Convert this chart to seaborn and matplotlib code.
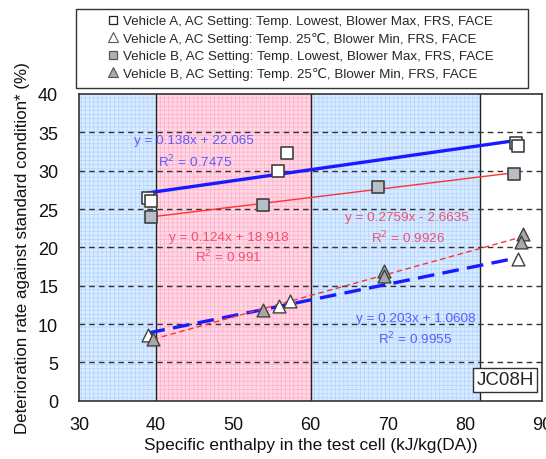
import numpy as np
import pandas as pd
import matplotlib
matplotlib.use("Agg")
import matplotlib.pyplot as plt
import seaborn as sns
from matplotlib.patches import Rectangle
from matplotlib.lines import Line2D

sns.set_theme(style="white")
plt.rcParams['font.family'] = ['Liberation Sans', 'DejaVu Sans']
plt.rcParams['hatch.linewidth'] = 0.6

# ---- data ----
a_sq_x = [39.0, 39.3, 55.8, 57.0, 86.6, 86.9]
a_sq_y = [26.4, 26.0, 29.9, 32.3, 33.6, 33.2]
b_sq_x = [39.3, 53.8, 68.8, 86.4]
b_sq_y = [24.0, 25.5, 27.9, 29.6]
a_tr_x = [39.0, 55.9, 57.4, 86.9]
a_tr_y = [8.6, 12.3, 13.0, 18.5]
b_tr_x = [39.6, 53.9, 69.5, 69.5, 87.5, 87.3]
b_tr_y = [8.0, 11.8, 16.9, 16.3, 21.8, 20.7]

labels = ["Vehicle A, AC Setting: Temp. Lowest, Blower Max, FRS, FACE",
          "Vehicle A, AC Setting: Temp. 25\u2103, Blower Min, FRS, FACE",
          "Vehicle B, AC Setting: Temp. Lowest, Blower Max, FRS, FACE",
          "Vehicle B, AC Setting: Temp. 25\u2103, Blower Min, FRS, FACE"]

eq_texts = ["y = 0.138x + 22.065", "R$^2$ = 0.7475",
            "y = 0.124x + 18.918", "R$^2$ = 0.991",
            "y = 0.2759x - 2.6635", "R$^2$ = 0.9926",
            "y = 0.203x + 1.0608", "R$^2$ = 0.9955"]

xticks = [30, 40, 50, 60, 70, 80, 90]
yticks = [0, 5, 10, 15, 20, 25, 30, 35, 40]

# ---- figure ----
fig = plt.figure(figsize=(5.46, 4.60), dpi=100)
ax = fig.add_axes([79/546, 1-401.7/460, 463/546, (401.7-95)/460])
ax.set_xlim(30, 90)
ax.set_ylim(0, 40)

blue_bg, blue_h = "#dcecff", "#b4d6ff"
pink_bg, pink_h = "#ffd9e6", "#ffb3cc"
for (x0, x1, fc, hc) in [(30, 40, blue_bg, blue_h), (40, 60, pink_bg, pink_h), (60, 82, blue_bg, blue_h)]:
    ax.axvspan(x0, x1, facecolor=fc, edgecolor=hc, hatch="++++", lw=0, zorder=0)
for xv in [40, 60, 82]:
    ax.axvline(xv, color="#222222", lw=1.0, zorder=1)
for yv in yticks[1:-1]:
    ax.axhline(yv, color="#333333", lw=1.0, ls=(0, (4, 3)), zorder=1)

# regression lines
blue = "#1a1aff"
red = "#ff3333"
sns.regplot(x=a_sq_x, y=a_sq_y, ax=ax, scatter=False, ci=None, truncate=True,
            line_kws=dict(color=blue, lw=2.4, zorder=3))
sns.regplot(x=b_sq_x, y=b_sq_y, ax=ax, scatter=False, ci=None, truncate=True,
            line_kws=dict(color=red, lw=1.0, zorder=3))
sns.regplot(x=a_tr_x, y=a_tr_y, ax=ax, scatter=False, ci=None, truncate=True,
            line_kws=dict(color=blue, lw=2.4, ls=(0, (5, 2.5)), zorder=3))
sns.regplot(x=b_tr_x, y=b_tr_y, ax=ax, scatter=False, ci=None, truncate=True,
            line_kws=dict(color=red, lw=1.0, ls=(0, (4, 2.5)), zorder=3))

# points
edge = "#404040"
sns.scatterplot(x=a_sq_x, y=a_sq_y, ax=ax, marker="s", s=70, facecolor="white",
                edgecolor=edge, linewidth=1.2, zorder=4)
sns.scatterplot(x=b_sq_x, y=b_sq_y, ax=ax, marker="s", s=70, facecolor="#b8bec6",
                edgecolor=edge, linewidth=1.2, zorder=4)
sns.scatterplot(x=a_tr_x, y=a_tr_y, ax=ax, marker="^", s=85, facecolor="white",
                edgecolor=edge, linewidth=1.0, zorder=4)
sns.scatterplot(x=b_tr_x, y=b_tr_y, ax=ax, marker="^", s=85, facecolor="#a8a8a8",
                edgecolor=edge, linewidth=1.0, zorder=4)

# equations
tb = "#5b5bff"
tr = "#f0506e"
fs_eq = 9.7
ax.text(44.9, 33.95, eq_texts[0], color=tb, fontsize=fs_eq, ha="center", va="center")
ax.text(45.0, 31.3, eq_texts[1], color=tb, fontsize=fs_eq, ha="center", va="center")
ax.text(49.4, 21.4, eq_texts[2], color=tr, fontsize=fs_eq, ha="center", va="center")
ax.text(49.4, 18.9, eq_texts[3], color=tr, fontsize=fs_eq, ha="center", va="center")
ax.text(72.5, 23.9, eq_texts[4], color=tr, fontsize=fs_eq, ha="center", va="center")
ax.text(72.6, 21.3, eq_texts[5], color=tr, fontsize=fs_eq, ha="center", va="center")
ax.text(73.6, 10.8, eq_texts[6], color=tb, fontsize=fs_eq, ha="center", va="center")
ax.text(73.6, 8.2, eq_texts[7], color=tb, fontsize=fs_eq, ha="center", va="center")

ax.text(85.2, 2.7, "JC08H", fontsize=13.5, ha="center", va="center", zorder=6,
        bbox=dict(boxstyle="square,pad=0.2", facecolor="white", edgecolor="#333333", lw=1.0))

# axes styling
ax.set_xticks(xticks)
ax.set_yticks(yticks)
ax.tick_params(axis="both", direction="in", length=4, width=0.8, colors="#222222",
               labelsize=13, labelcolor="#111111")
ax.tick_params(axis="x", pad=11)
ax.tick_params(axis="y", pad=15)
for sp in ax.spines.values():
    sp.set_color("#333333")
    sp.set_linewidth(1.2)
    sp.set_zorder(7)
ax.set_xlabel("Specific enthalpy in the test cell (kJ/kg(DA))", fontsize=12.4, color="#111111", labelpad=3)
ax.set_ylabel("Deterioration rate against standard condition* (%)", fontsize=12.2, color="#111111", labelpad=6)

# legend box
fig.patches.append(Rectangle((76/546, 1-89/460), (528-76)/546, (89-10)/460,
                             transform=fig.transFigure, facecolor="white",
                             edgecolor="#333333", lw=1.0, zorder=0))
handles = [
    Line2D([], [], ls="none", marker="s", ms=6, mfc="white", mec="#222222", mew=0.9),
    Line2D([], [], ls="none", marker="^", ms=7, mfc="white", mec="#555555", mew=0.8),
    Line2D([], [], ls="none", marker="s", ms=6, mfc="#b0b0b0", mec="#555555", mew=0.9),
    Line2D([], [], ls="none", marker="^", ms=7, mfc="#a8a8a8", mec="#555555", mew=0.8),
]
leg = fig.legend(handles, labels, loc="upper left", bbox_to_anchor=(100/546, 1-8/460),
                 frameon=False, fontsize=9.6, handlelength=0.8, handletextpad=0.3,
                 labelspacing=0.36, borderpad=0.1)

fig.savefig("out.png", dpi=100)
